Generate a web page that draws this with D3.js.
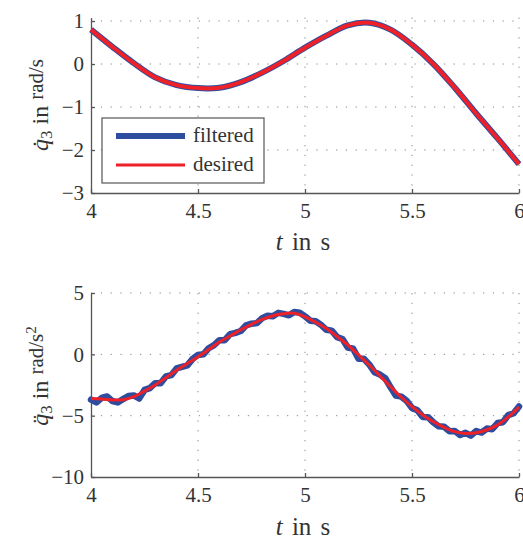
<!DOCTYPE html>
<html lang="en">
<head>
<meta charset="UTF-8">
<script src="https://d3js.org/d3.v7.min.js"></script>
<style>
    body { margin: 0; background: white; }
    svg { font-family: "Liberation Serif", "Times New Roman", serif; }
    .axis path, .axis line { stroke: #555; stroke-width: 1.3; }
    .grid line { stroke: #8c8c8c; stroke-width: 1; stroke-dasharray: 1.3 8.5; }
</style>
</head>
<body>
<script>

// time samples (s)
var tCoarse = d3.range(41).map(function(i){ return +(4 + i*0.05).toFixed(3); });
var tFine = d3.range(81).map(function(i){ return +(4 + i*0.025).toFixed(3); });

var xTicks = [4, 4.5, 5, 5.5, 6];
var velTicks = [-3, -2, -1, 0, 1];
var accTicks = [-10, -5, 0, 5];

// joint velocity, read at t = 4.00 ... 6.00 step 0.1
var tVel = d3.range(21).map(function(i){ return +(4 + i*0.1).toFixed(2); });
var velDesired = [0.80, 0.40, 0.02, -0.31, -0.49, -0.56, -0.55, -0.42, -0.20, 0.07,
                  0.38, 0.66, 0.90, 0.96, 0.80, 0.45, 0.00, -0.55, -1.15, -1.73, -2.33];
var velFiltered = [0.80, 0.40, 0.02, -0.31, -0.49, -0.56, -0.55, -0.42, -0.20, 0.07,
                   0.38, 0.66, 0.90, 0.96, 0.80, 0.45, 0.00, -0.55, -1.15, -1.73, -2.33];

// joint acceleration, desired at step 0.05
var accDesired = [-3.60, -3.65, -3.72, -3.70, -3.45, -3.00, -2.50, -1.90, -1.30, -0.75,
                  -0.20, 0.40, 1.00, 1.50, 2.00, 2.45, 2.85, 3.15, 3.30, 3.35,
                  3.05, 2.60, 2.10, 1.45, 0.76, -0.05, -0.87, -1.75, -2.64, -3.50,
                  -4.27, -4.95, -5.50, -5.95, -6.30, -6.45, -6.40, -6.15, -5.75, -5.10, -4.30];
// filtered acceleration, step 0.025 (noisy)
var accFiltered = [-3.70, -3.92, -3.55, -3.43, -3.82, -3.92, -3.65, -3.40, -3.35, -3.60,
                   -2.90, -2.75, -2.35, -2.35, -1.80, -1.70, -1.15, -1.02, -0.90, -0.37,
                   -0.05, 0.00, 0.50, 0.75, 1.15, 1.15, 1.65, 1.75, 1.90, 2.37,
                   2.50, 2.55, 2.95, 3.15, 3.10, 3.38, 3.30, 3.18, 3.45, 3.40,
                   3.10, 2.73, 2.70, 2.40, 2.00, 1.93, 1.40, 1.25, 0.56, 0.46,
                   -0.35, -0.36, -0.82, -1.46, -1.65, -1.95, -2.69, -3.37, -3.45, -3.79,
                   -4.37, -4.56, -5.10, -5.12, -5.55, -5.87, -5.90, -6.27, -6.25, -6.58,
                   -6.40, -6.63, -6.25, -6.38, -6.05, -6.10, -5.60, -5.53, -4.95, -4.80, -4.25];

var blue = "#2f4d9e";
var red = "#ee2128";
var serif = "'Liberation Serif', 'Times New Roman', serif";

var svg = d3.select("body").append("svg")
    .attr("width", 523)
    .attr("height", 539);

var x = d3.scaleLinear().domain([4, 6]).range([91, 519]);

function panel(yScale, yTicks, yTop, yBottom) {
    var g = svg.append("g");

    // grid
    var grid = g.append("g").attr("class", "grid");
    grid.selectAll(".h").data(yTicks.filter(function(d){ return yScale(d) < yBottom - 1; }))
        .enter().append("line")
        .attr("x1", x(4)).attr("x2", x(6))
        .attr("y1", function(d){ return yScale(d); })
        .attr("y2", function(d){ return yScale(d); });
    grid.selectAll(".v").data(xTicks.slice(1))
        .enter().append("line")
        .attr("x1", function(d){ return x(d); })
        .attr("x2", function(d){ return x(d); })
        .attr("y1", yTop).attr("y2", yBottom);

    g.append("g").attr("class", "axis")
        .attr("transform", "translate(0," + yBottom + ")")
        .call(d3.axisBottom(x).tickValues(xTicks).tickFormat(d3.format("")).tickSizeInner(-4).tickSizeOuter(0).tickPadding(10));

    g.append("g").attr("class", "axis")
        .attr("transform", "translate(" + x(4) + ",0)")
        .call(d3.axisLeft(yScale).tickValues(yTicks).tickFormat(d3.format("")).tickSizeInner(-4).tickSizeOuter(0).tickPadding(7));

    g.selectAll(".axis").attr("font-family", serif).attr("font-size", 21);
    g.selectAll(".axis text").attr("fill", "#333");

    return g;
}

// ---- top panel: velocity
var yVel = d3.scaleLinear().domain([-3, 1.08]).range([193, 17.6]);
var gTop = panel(yVel, velTicks, 17.6, 193);

var smooth = d3.line().curve(d3.curveCatmullRom)
    .x(function(d){ return x(d[0]); })
    .y(function(d){ return yVel(d[1]); });

gTop.append("path")
    .attr("d", smooth(d3.zip(tVel, velFiltered)))
    .attr("fill", "none").attr("stroke", blue).attr("stroke-width", 6);
gTop.append("path")
    .attr("d", smooth(d3.zip(tVel, velDesired)))
    .attr("fill", "none").attr("stroke", red).attr("stroke-width", 4);

// legend
var leg = gTop.append("g");
leg.append("rect").attr("x", 102).attr("y", 118).attr("width", 162).attr("height", 65)
    .attr("fill", "white").attr("stroke", "#555").attr("stroke-width", 1.2);
leg.append("line").attr("x1", 116).attr("x2", 185).attr("y1", 136).attr("y2", 136)
    .attr("stroke", blue).attr("stroke-width", 6);
leg.append("line").attr("x1", 116).attr("x2", 185).attr("y1", 165).attr("y2", 165)
    .attr("stroke", red).attr("stroke-width", 3);
leg.append("text").attr("x", 193).attr("y", 142).attr("font-size", 21).attr("fill", "#333").text("filtered");
leg.append("text").attr("x", 193).attr("y", 171).attr("font-size", 21).attr("fill", "#333").text("desired");

// ---- bottom panel: acceleration
var yAcc = d3.scaleLinear().domain([-10, 5]).range([477, 293]);
var gBot = panel(yAcc, accTicks, 293, 477);

var lineAcc = d3.line()
    .x(function(d){ return x(d[0]); })
    .y(function(d){ return yAcc(d[1]); });

gBot.append("path")
    .attr("d", lineAcc(d3.zip(tFine, accFiltered)))
    .attr("fill", "none").attr("stroke", blue).attr("stroke-width", 6.5)
    .attr("stroke-linejoin", "round").attr("stroke-linecap", "round");
gBot.append("path")
    .attr("d", lineAcc.curve(d3.curveCatmullRom)(d3.zip(tCoarse, accDesired)))
    .attr("fill", "none").attr("stroke", red).attr("stroke-width", 3);

// axis labels
function xLabel(yb) {
    var t = svg.append("text").attr("x", 303).attr("y", yb)
        .attr("text-anchor", "middle").attr("font-size", 25).attr("fill", "#333")
        .attr("word-spacing", 3);
    t.append("tspan").attr("font-style", "italic").text("t");
    t.append("tspan").text(" in s");
}
xLabel(250);
xLabel(535);

function yLabel(cx, cy, dots, sup) {
    var t = svg.append("text")
        .attr("transform", "translate(" + cx + "," + cy + ") rotate(-90)")
        .attr("text-anchor", "middle").attr("font-size", 24).attr("fill", "#333");
    t.append("tspan").attr("font-style", "italic").text("q" + dots);
    t.append("tspan").attr("font-size", 17).attr("dy", 4).text("3");
    t.append("tspan").attr("dy", -4).text(" in ");
    t.append("tspan").attr("font-size", 21).attr("dy", -5).text("rad/s");
    if (sup) t.append("tspan").attr("font-size", 15).attr("dy", -7).text(sup);
}
yLabel(48, 105, "\u0307", null);
yLabel(48, 376, "\u0308", "2");

</script>
</body>
</html>
